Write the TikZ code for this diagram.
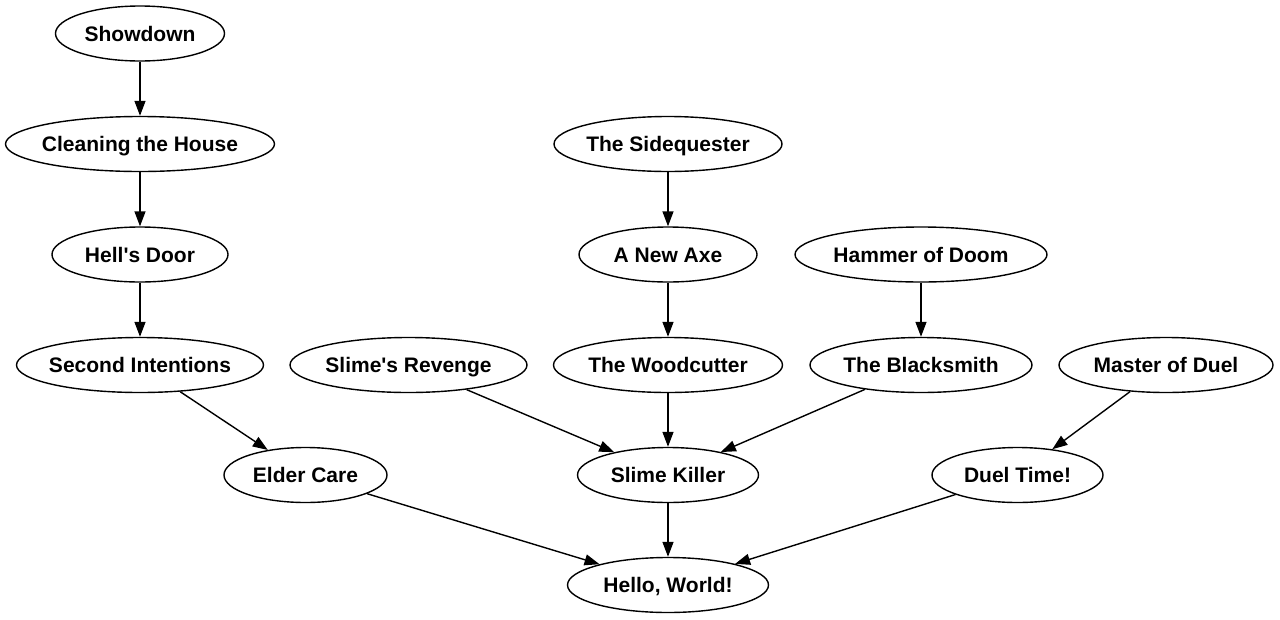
\documentclass[tikz,border=0pt]{standalone}
\usepackage{fontspec}
\setmainfont{Liberation Sans}[Ligatures=TeXOff]
\usetikzlibrary{shapes.geometric,arrows.meta}
\tikzset{
  quest/.style={ellipse, draw=black, line width=1.4pt, inner sep=0pt,
    minimum height=55pt, text height=15pt, text depth=0pt,
    font=\fontsize{21}{25}\selectfont\bfseries},
  link/.style={line width=1.4pt, -{Triangle[length=15pt,width=11pt]}}
}
\newcommand{\qlabel}[1]{\makebox[0pt]{#1}}
\begin{document}
\begin{tikzpicture}[x=1pt,y=-1pt]
\useasboundingbox (0,0) rectangle (1280,619);
\fill[white] (0,0) rectangle (1280,619);
\node[quest, minimum width=169pt] (showdown) at (140,33.5) {\qlabel{Showdown}};
\node[quest, minimum width=269pt] (cleaning) at (140,144) {\qlabel{Cleaning the House}};
\node[quest, minimum width=176pt] (hells) at (140,254.5) {\qlabel{Hell's Door}};
\node[quest, minimum width=247pt] (second) at (140,365) {\qlabel{Second Intentions}};
\node[quest, minimum width=163pt] (elder) at (305.5,475) {\qlabel{Elder Care}};
\node[quest, minimum width=228pt] (sidequester) at (668,144) {\qlabel{The Sidequester}};
\node[quest, minimum width=178pt] (axe) at (668,254.5) {\qlabel{A New Axe}};
\node[quest, minimum width=252pt] (hammer) at (921,254.5) {\qlabel{Hammer of Doom}};
\node[quest, minimum width=237pt] (slimerev) at (408.5,365) {\qlabel{Slime's Revenge}};
\node[quest, minimum width=229pt] (woodcutter) at (668,365) {\qlabel{The Woodcutter}};
\node[quest, minimum width=222pt] (blacksmith) at (921,365) {\qlabel{The Blacksmith}};
\node[quest, minimum width=214pt] (master) at (1166,365) {\qlabel{Master of Duel}};
\node[quest, minimum width=181pt] (slimekiller) at (668,475) {\qlabel{Slime Killer}};
\node[quest, minimum width=171pt] (duel) at (1017.5,475) {\qlabel{Duel Time!}};
\node[quest, minimum width=201pt] (hello) at (668,585) {\qlabel{Hello, World!}};
\draw[link] (showdown) -- (cleaning);
\draw[link] (cleaning) -- (hells);
\draw[link] (hells) -- (second);
\draw[link] (second) -- (elder);
\draw[link] (sidequester) -- (axe);
\draw[link] (axe) -- (woodcutter);
\draw[link] (hammer) -- (blacksmith);
\draw[link] (slimerev) -- (slimekiller);
\draw[link] (woodcutter) -- (slimekiller);
\draw[link] (blacksmith) -- (slimekiller);
\draw[link] (master) -- (duel);
\draw[link] (elder) -- (hello);
\draw[link] (slimekiller) -- (hello);
\draw[link] (duel) -- (hello);
\end{tikzpicture}
\end{document}
